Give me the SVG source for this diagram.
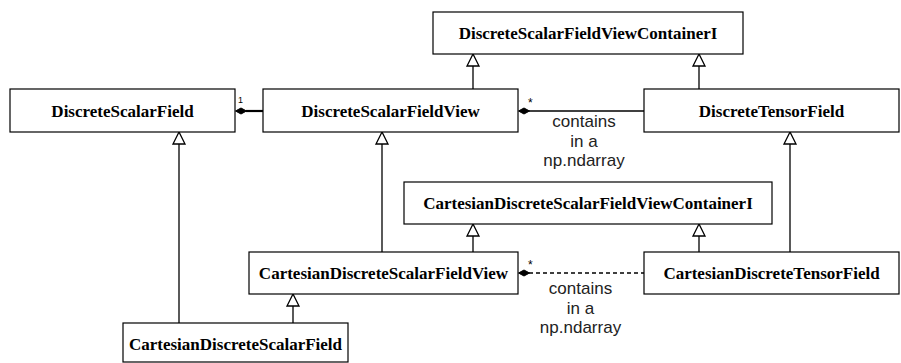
<svg xmlns="http://www.w3.org/2000/svg" width="901" height="363" viewBox="0 0 901 363">
<defs>
<style>
.box{fill:#fff;stroke:#000;stroke-width:1.2}
.lbl{font-family:"Liberation Serif",serif;font-weight:bold;font-size:17px;text-anchor:middle;fill:#000}
.ln{fill:none;stroke:#000;stroke-width:1.3}
.tri{fill:#fff;stroke:#000;stroke-width:1.3}
.dia{fill:#000;stroke:#000;stroke-width:1}
.note{font-family:"Liberation Sans",sans-serif;font-size:17px;text-anchor:middle;fill:#222}
.mult{font-family:"Liberation Sans",sans-serif;font-size:9px;fill:#000}
</style>
</defs>
<g id="connectors">
<path class="ln" d="M473,89 V66"/><path class="tri" d="M473,54 L467,66 H479 Z"/>
<path class="ln" d="M699,89 V66"/><path class="tri" d="M699,54 L693,66 H705 Z"/>
<path class="ln" d="M179,323 V144"/><path class="tri" d="M179,132 L173,144 H185 Z"/>
<path class="ln" d="M382,252 V144"/><path class="tri" d="M382,132 L376,144 H388 Z"/>
<path class="ln" d="M790,252 V144"/><path class="tri" d="M790,132 L784,144 H796 Z"/>
<path class="ln" d="M473,252 V236"/><path class="tri" d="M473,224 L467,236 H479 Z"/>
<path class="ln" d="M699,252 V236"/><path class="tri" d="M699,224 L693,236 H705 Z"/>
<path class="ln" d="M293,323 V306"/><path class="tri" d="M293,294 L287,306 H299 Z"/>
<path class="ln" d="M246,111 H263" style="stroke-width:2.2"/><path class="dia" d="M235.5,111 L241,108 L246.5,111 L241,114 Z"/>
<text class="mult" x="238" y="103">1</text>
<path class="ln" d="M529,111 H644"/><path class="dia" d="M518.5,111 L524,108 L529.5,111 L524,114 Z"/>
<text class="mult" x="528" y="107" style="font-size:12px">*</text>
<text class="note" x="584" y="127">contains</text>
<text class="note" x="584" y="147">in a</text>
<text class="note" x="584" y="166">np.ndarray</text>
<path class="ln" d="M529,273 H644" style="stroke-dasharray:4,3"/><path class="dia" d="M518.5,273 L524,270 L529.5,273 L524,276 Z"/>
<text class="mult" x="528" y="269" style="font-size:12px">*</text>
<text class="note" x="580.5" y="294">contains</text>
<text class="note" x="580.5" y="314">in a</text>
<text class="note" x="580.5" y="333">np.ndarray</text>
</g>
<g id="DiscreteScalarFieldViewContainerI"><rect class="box" x="433" y="12" width="310" height="42"/><text class="lbl" x="588" y="39">DiscreteScalarFieldViewContainerI</text></g>
<g id="DiscreteScalarField"><rect class="box" x="10" y="89" width="225" height="43"/><text class="lbl" x="122.5" y="117">DiscreteScalarField</text></g>
<g id="DiscreteScalarFieldView"><rect class="box" x="263" y="89" width="255" height="43"/><text class="lbl" x="390.5" y="117">DiscreteScalarFieldView</text></g>
<g id="DiscreteTensorField"><rect class="box" x="644" y="89" width="255" height="43"/><text class="lbl" x="771.5" y="117">DiscreteTensorField</text></g>
<g id="CartesianDiscreteScalarFieldViewContainerI"><rect class="box" x="404" y="182" width="368" height="42"/><text class="lbl" x="588" y="209">CartesianDiscreteScalarFieldViewContainerI</text></g>
<g id="CartesianDiscreteScalarFieldView"><rect class="box" x="249" y="252" width="269" height="42"/><text class="lbl" x="383.5" y="279">CartesianDiscreteScalarFieldView</text></g>
<g id="CartesianDiscreteTensorField"><rect class="box" x="644" y="252" width="255" height="42"/><text class="lbl" x="771.5" y="279">CartesianDiscreteTensorField</text></g>
<g id="CartesianDiscreteScalarField"><rect class="box" x="123" y="323" width="225" height="39"/><text class="lbl" x="235.5" y="350">CartesianDiscreteScalarField</text></g>
</svg>
